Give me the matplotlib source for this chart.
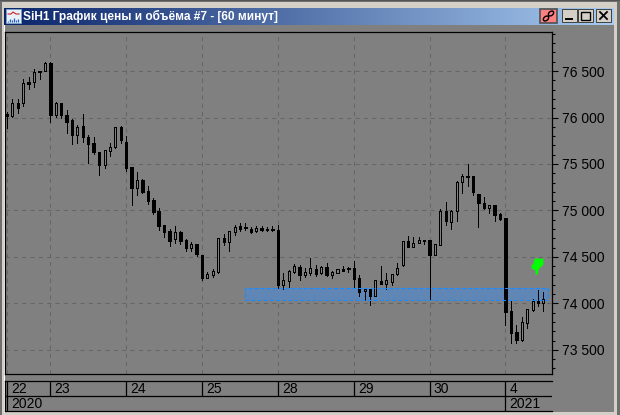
import matplotlib
matplotlib.use("Agg")
import matplotlib.pyplot as plt
from matplotlib.patches import Rectangle, Ellipse
from matplotlib.path import Path
from matplotlib.ticker import FuncFormatter, MultipleLocator
import numpy as np

plt.rcParams['font.family'] = ['Liberation Sans', 'DejaVu Sans']

# свечи, час за часом
opens = [76037, 76016, 76156, 76156, 76382, 76382, 76500, 76500, 76586, 76027,
         76156, 76027, 75973, 75811, 75908, 75790, 75725, 75628, 75489, 75639,
         75682, 75897, 75736, 75467, 75241, 75327, 75209, 75112, 74994, 74843,
         74778, 74692, 74768, 74682, 74596, 74639, 74520, 74273, 74305, 74337,
         74703, 74660, 74768, 74832, 74821, 74800, 74778, 74811, 74800, 74800,
         74789, 74197, 74240, 74337, 74391, 74305, 74327, 74370, 74327, 74391,
         74305, 74327, 74370, 74380, 74380, 74273, 74133, 74154, 74079, 74240,
         74208, 74230, 74316, 74413, 74671, 74606, 74649, 74682, 74682, 74520,
         74628, 74994, 74875, 74994, 75306, 75370, 75370, 75177, 75080, 75026,
         75058, 74961, 74918, 73918, 73692, 73606, 73788, 73928, 74025, 74004]
highs = [76059, 76199, 76199, 76414, 76435, 76522, 76505, 76597, 76597, 76166,
         76156, 76080, 75984, 75919, 76037, 75811, 75790, 75628, 75650, 75725,
         75897, 75908, 75801, 75467, 75413, 75338, 75263, 75134, 75026, 74843,
         74800, 74832, 74778, 74692, 74660, 74639, 74520, 74337, 74370, 74703,
         74746, 74778, 74843, 74865, 74865, 74821, 74832, 74832, 74821, 74832,
         74843, 74327, 74359, 74423, 74413, 74380, 74488, 74413, 74402, 74434,
         74348, 74370, 74402, 74391, 74456, 74305, 74165, 74154, 74251, 74402,
         74327, 74316, 74434, 74671, 74725, 74714, 74714, 74682, 74682, 74639,
         75015, 75090, 75004, 75316, 75392, 75499, 75370, 75177, 75144, 75058,
         75058, 74972, 74918, 74025, 73767, 73853, 73939, 74047, 74144, 74122]
lows = [75887, 76005, 76048, 76123, 76306, 76328, 76414, 76500, 75951, 76005,
        75994, 75833, 75715, 75725, 75736, 75510, 75607, 75381, 75456, 75585,
        75671, 75725, 75424, 75058, 75166, 75187, 75069, 74961, 74789, 74714,
        74617, 74649, 74639, 74563, 74563, 74509, 74251, 74273, 74283, 74327,
        74628, 74563, 74735, 74778, 74789, 74757, 74768, 74778, 74778, 74778,
        74165, 74154, 74176, 74327, 74251, 74283, 74305, 74294, 74316, 74294,
        74273, 74327, 74348, 74337, 74176, 74079, 74036, 73982, 74079, 74208,
        74154, 74197, 74305, 74402, 74606, 74606, 74649, 74639, 74036, 74520,
        74628, 74843, 74800, 74886, 75187, 75263, 75166, 74821, 75015, 74972,
        74886, 74897, 73767, 73573, 73573, 73595, 73735, 73918, 73971, 73918]
closes = [76016, 76156, 76102, 76371, 76360, 76489, 76489, 76586, 76027, 76156,
          76027, 75951, 75811, 75897, 75790, 75715, 75628, 75489, 75650, 75682,
          75897, 75758, 75456, 75241, 75327, 75198, 75101, 74983, 74832, 74768,
          74671, 74768, 74671, 74596, 74639, 74531, 74273, 74316, 74348, 74703,
          74660, 74778, 74821, 74800, 74811, 74768, 74811, 74789, 74789, 74789,
          74197, 74251, 74348, 74402, 74305, 74337, 74380, 74316, 74391, 74305,
          74337, 74370, 74348, 74370, 74262, 74122, 74154, 74079, 74251, 74208,
          74251, 74316, 74380, 74671, 74606, 74649, 74682, 74671, 74520, 74639,
          74994, 74886, 74994, 75306, 75370, 75359, 75198, 75080, 75026, 75058,
          74951, 74907, 73907, 73681, 73606, 73799, 73939, 74025, 74004, 74047]

day_labels = ["22", "23", "24", "25", "28", "29", "30", "4"]
day_starts = [0, 8, 22, 36, 50, 64, 78, 92]
year_labels = ["2020", "2021"]
year_starts = [0, 92]

zone_start, zone_end = 43.9, 99.8
zone_low, zone_high = 74036, 74165
arrow_x, arrow_price = 97.8, 74400

W, H = 620, 415
fig = plt.figure(figsize=(W / 100, H / 100), dpi=100, facecolor="#808080")


def box(x0, y0, x1, y1):
    # пиксели картинки -> доли фигуры
    return [x0 / W, 1 - y1 / H, (x1 - x0) / W, (y1 - y0) / H]


# рамка окна
chrome = fig.add_axes([0, 0, 1, 1], zorder=0)
chrome.set_xlim(0, W)
chrome.set_ylim(H, 0)
chrome.axis("off")
chrome.add_patch(Rectangle((0, 0), W, H, fc="#6e6e6e", ec="none"))
chrome.add_patch(Rectangle((2, 2), 615, 413, fc="#d4d0c8", ec="none"))
chrome.add_patch(Rectangle((4, 25), 610, 387, fc="#808080", ec="none"))
chrome.plot([4, 4], [25, 412], color="#ffffff", lw=0.7)
chrome.plot([0, W], [0.5, 0.5], color="#555555", lw=0.7)

# заголовок
grad = np.linspace(0, 1, 256).reshape(1, -1)
left_c = np.array([10, 36, 106]) / 255
right_c = np.array([166, 202, 240]) / 255
rgb = (left_c[None, None, :] * (1 - grad[..., None]) + right_c[None, None, :] * grad[..., None])
chrome.imshow(rgb, extent=(4, 614, 25, 8), aspect="auto", zorder=1)
chrome.set_xlim(0, W)
chrome.set_ylim(H, 0)
chrome.text(23, 16.5, "SiH1 График цены и объёма #7 - [60 минут]", color="white",
            fontsize=8.6, fontweight="bold", va="center", ha="left", zorder=3)

# значок окна
chrome.add_patch(Rectangle((6, 9), 15, 14, fc="#e8f0f8", ec="#7aa0c8", lw=0.7, zorder=2))
chrome.plot([8, 11, 13, 16, 19], [14, 14, 12, 14, 14], color="#d02020", lw=0.8, zorder=3)
chrome.vlines([8, 10, 12, 14, 16, 18], [21, 19, 20, 18, 20, 19], 22, color="#2060c0", lw=0.9, zorder=3)

# кнопки
chrome.add_patch(Rectangle((540, 9), 17, 14, fc="#ff8080", ec="#505050", lw=1.2, zorder=2))
chrome.add_patch(Ellipse((546, 18.5), 6, 4, angle=-40, fc="none", ec="black", lw=1.0, zorder=3))
chrome.add_patch(Ellipse((551, 13.5), 6, 4, angle=-40, fc="none", ec="black", lw=1.0, zorder=3))
for x0, kind in [(562, "min"), (578, "max"), (596, "close")]:
    chrome.add_patch(Rectangle((x0, 9), 15, 13, fc="#d4d0c8", ec="#404040", lw=0.7, zorder=2))
    if kind == "min":
        chrome.plot([x0 + 4, x0 + 10], [19, 19], color="black", lw=1.4, zorder=3)
    elif kind == "max":
        chrome.add_patch(Rectangle((x0 + 3, 12), 9, 8, fc="none", ec="black", lw=1.0, zorder=3))
    else:
        chrome.plot([x0 + 4, x0 + 11], [12, 19], color="black", lw=1.3, zorder=3)
        chrome.plot([x0 + 4, x0 + 11], [19, 12], color="black", lw=1.3, zorder=3)

# график
ax = fig.add_axes(box(5, 32, 552, 374), zorder=2, facecolor="#808080")
xs = np.arange(len(opens))
ax.set_xlim(-0.37, 100.59)
ax.set_ylim(73240, 76920)

ax.set_xticks(day_starts)
ax.yaxis.set_major_locator(MultipleLocator(500))
ax.yaxis.set_minor_locator(MultipleLocator(100))
ax.yaxis.tick_right()
ax.yaxis.set_major_formatter(FuncFormatter(lambda v, p: f"{int(v):,}".replace(",", " ")))
ax.tick_params(axis="y", which="major", length=4.5, width=0.8, pad=2.5, labelsize=10, colors="black")
ax.tick_params(axis="y", which="minor", length=2.3, width=0.8, colors="black")
ax.tick_params(axis="x", length=0, labelbottom=False)
ax.grid(True, which="major", color="#666666", lw=0.75, ls=(0, (4, 4)), zorder=0.5)
ax.set_axisbelow(True)
for s in ax.spines.values():
    s.set_linewidth(0.9)
    s.set_color("black")

# зона
ax.add_patch(Rectangle((zone_start, zone_low), zone_end - zone_start, zone_high - zone_low,
                       fc="#5f86b5", ec="none", zorder=1))

ax.vlines(xs, lows, highs, color="black", lw=0.72, antialiased=False, zorder=2)
for i in xs:
    lo, hi = min(opens[i], closes[i]), max(opens[i], closes[i])
    if closes[i] >= opens[i]:
        ax.bar(i, hi - lo, 0.37, bottom=lo, fc="#808080", ec="black", lw=0.72, antialiased=False, zorder=3)
    else:
        ax.bar(i, hi - lo, 0.45, bottom=lo, fc="black", ec="black", lw=0.72, antialiased=False, zorder=3)

ax.add_patch(Rectangle((zone_start, zone_low), zone_end - zone_start, zone_high - zone_low,
                       fc="none", ec="#1a8cff", lw=0.8, ls=(0, (3.5, 2)), zorder=4))

# зелёная рука
hand = Path([(-2, -8), (-2, -4), (-6, -2), (-6, 1), (-4, 3), (-3, 8), (2, 8), (6, 8),
             (6, 2), (4, 0), (1, -3), (0.5, -8), (-2, -8)])
ax.scatter([arrow_x], [arrow_price], marker=hand, s=130, color="#00ff00", linewidths=0, zorder=5)

# шкала времени
tax = fig.add_axes(box(5, 381, 552, 411), zorder=2, facecolor="#808080")
tax.set_xlim(ax.get_xlim())
tax.set_ylim(0, 2)
tax.set_xticks([])
tax.set_yticks([])
tax.spines["right"].set_visible(False)
for s in ["top", "bottom", "left"]:
    tax.spines[s].set_linewidth(0.9)
tax.axhline(1, color="black", lw=0.9)
tax.vlines(day_starts, 1, 2, color="black", lw=0.9)
tax.vlines(year_starts, 0, 1, color="black", lw=0.9)
for d, lab in zip(day_starts, day_labels):
    tax.annotate(lab, (d, 1.5), xytext=(3, 0), textcoords="offset points", va="center", ha="left",
                 fontsize=10, color="black")
for d, lab in zip(year_starts, year_labels):
    tax.annotate(lab, (d, 0.5), xytext=(3, 0), textcoords="offset points", va="center", ha="left",
                 fontsize=10, color="black")

fig.savefig("out.png", dpi=100, facecolor=fig.get_facecolor())
